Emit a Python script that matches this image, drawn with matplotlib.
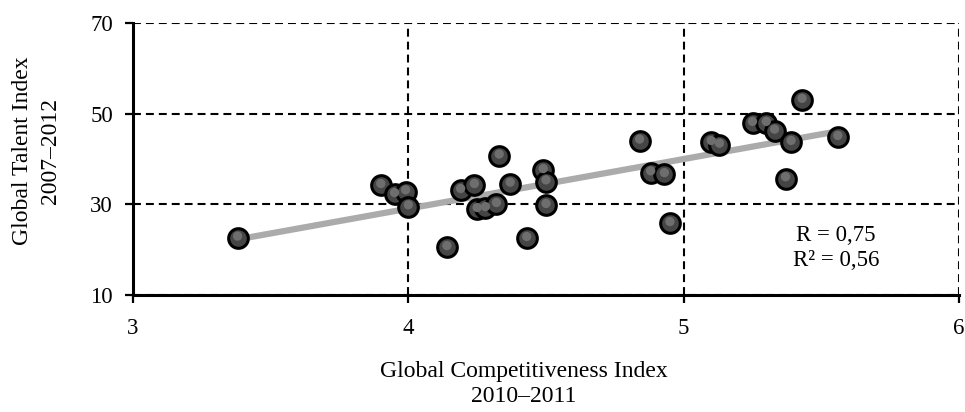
import numpy as np
import matplotlib.pyplot as plt

plt.rcParams['font.family'] = ['Liberation Serif', 'DejaVu Serif']

# Global Competitiveness Index 2010-2011 vs Global Talent Index 2007-2012
gci = [3.38, 3.90, 3.95, 3.99, 4.00, 4.14, 4.19, 4.24, 4.25, 4.28, 4.32, 4.33,
       4.37, 4.43, 4.49, 4.50, 4.50, 4.84, 4.88, 4.93, 4.95, 5.10, 5.13, 5.25,
       5.30, 5.33, 5.39, 5.37, 5.43, 5.56]
gti = [22.6, 34.2, 32.2, 32.8, 29.5, 20.5, 33.1, 34.2, 28.9, 29.1, 30.0, 40.7,
       34.5, 22.5, 37.5, 35.0, 29.8, 44.0, 37.0, 36.6, 25.8, 43.7, 43.1, 47.9,
       47.9, 46.2, 43.7, 35.7, 53.0, 44.8]
x_ticks = [3, 4, 5, 6]
y_ticks = [10, 30, 50, 70]

fig = plt.figure(figsize=(9.65, 4.12), dpi=100)
ax = fig.add_axes([0.1378, 0.284, 0.856, 0.66])

# Linear trend line
k, b = np.polyfit(gci, gti, 1)
xs = np.array([min(gci), max(gci)])
ax.plot(xs, k * xs + b, color='#ababab', lw=4.5, solid_capstyle='butt', zorder=2)

# Points (dark spheres with a lighter centre)
ax.scatter(gci, gti, s=200, facecolor='#454545', edgecolor='black', linewidth=2.2, zorder=3)
ax.scatter(gci, np.array(gti) + 0.4, s=45, facecolor='#6e6e6e', edgecolor='none', zorder=4)

ax.set_xlim(3, 6)
ax.set_ylim(10, 70)
ax.set_xticks(x_ticks)
ax.set_yticks(y_ticks)
ax.tick_params(axis='both', direction='out', length=5.5, width=1.6, labelsize=16.5, colors='black')
ax.tick_params(axis='x', pad=11)
ax.tick_params(axis='y', pad=9)

ax.grid(True, color='black', linestyle=(0, (3.8, 2.4)), linewidth=1.5)
ax.set_axisbelow(True)
for side in ['top', 'right']:
    ax.spines[side].set_visible(False)
for side in ['left', 'bottom']:
    ax.spines[side].set_linewidth(2.2)

fig.text(524 / 965, 1 - 384 / 412, 'Global Competitiveness Index\n2010\u20132011',
         ha='center', va='center', fontsize=17, linespacing=1.3)
fig.text(36.5 / 965, 1 - 151 / 412, 'Global Talent Index\n2007\u20132012',
         ha='center', va='center', fontsize=17, linespacing=1.4, rotation=90)

ax.text(836 / 965, 1 - 248 / 412, 'R = 0,75\nR\u00b2 = 0,56', transform=fig.transFigure,
        ha='center', va='center', fontsize=16.5, linespacing=1.2)

fig.savefig('out.png', dpi=100)
